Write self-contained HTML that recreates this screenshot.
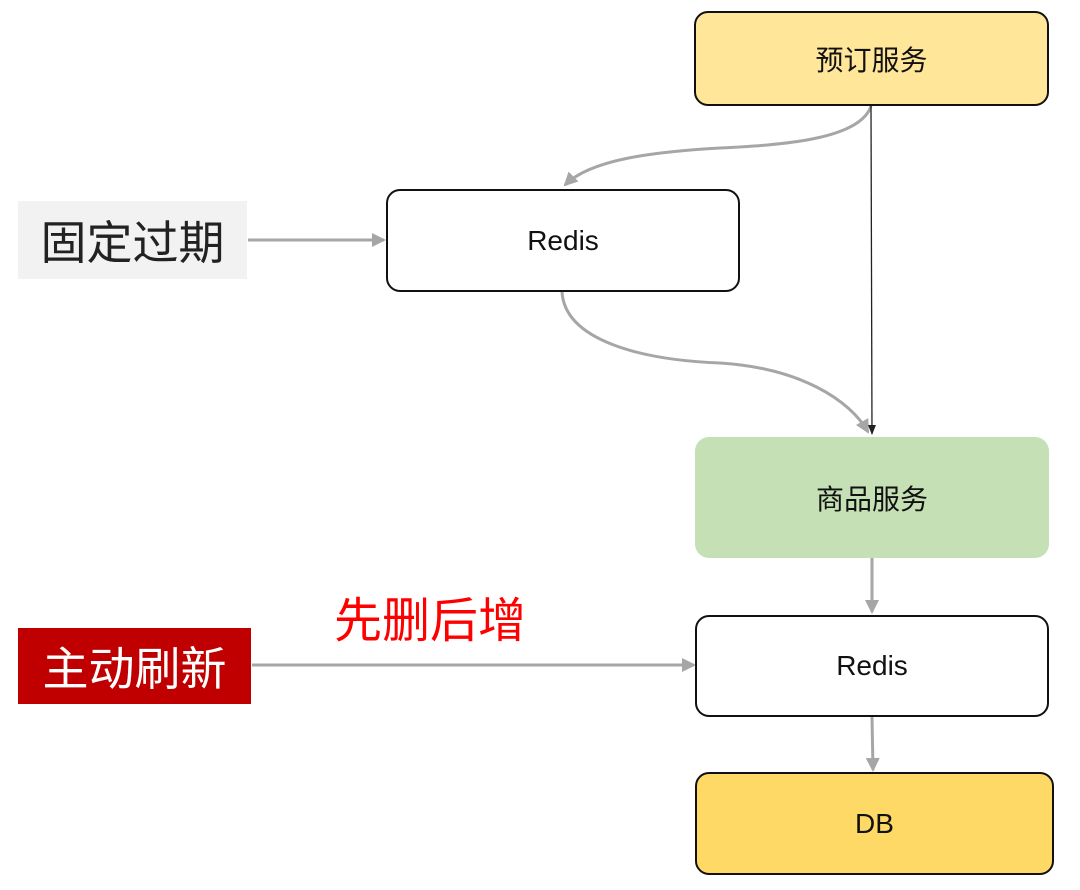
<!DOCTYPE html>
<html><head><meta charset="utf-8"><style>
html,body{margin:0;padding:0;background:#fff}
body{width:1080px;height:890px;position:relative;overflow:hidden;font-family:"Liberation Sans","Noto Sans CJK SC",sans-serif}
.b{position:absolute;box-sizing:border-box;border:2px solid #111;border-radius:14px;display:flex;align-items:center;justify-content:center;font-size:28px;color:#111}
.l{position:absolute;display:flex;align-items:center;justify-content:center}
</style></head><body>
<svg width="1080" height="890" style="position:absolute;left:0;top:0">
<defs>
<marker id="g" markerWidth="16" markerHeight="14" refX="12" refY="7" orient="auto" markerUnits="userSpaceOnUse" viewBox="0 0 14 14"><path d="M0,0 L14,7 L0,14 z" fill="#a6a6a6"/></marker>
<marker id="k" markerWidth="10" markerHeight="12" refX="9" refY="5" orient="auto" markerUnits="userSpaceOnUse" viewBox="0 0 10 10"><path d="M0,1 L10,5 L0,9 z" fill="#222"/></marker>
</defs>
<g fill="none" stroke="#a6a6a6" stroke-width="3">
<path d="M871,106 C860,140 780,145 720,148 C650,152 590,160 565,185" marker-end="url(#g)"/>
<path d="M562,292 C565,340 640,360 720,363 C800,368 850,400 868,432" marker-end="url(#g)"/>
<path d="M248,240 L384,240" marker-end="url(#g)"/>
<path d="M872,558 L872,612" marker-end="url(#g)"/>
<path d="M872,717 L873,770" marker-end="url(#g)"/>
<path d="M252,665 L694,665" marker-end="url(#g)"/>
</g>
<path d="M871,106 L872,434" stroke="#222" stroke-width="1.3" fill="none" marker-end="url(#k)"/>
</svg>
<div class="b" style="left:694px;top:11px;width:355px;height:95px;background:#ffe699">预订服务</div>
<div class="b" style="left:386px;top:189px;width:354px;height:103px;background:#fff">Redis</div>
<div class="b" style="left:695px;top:437px;width:354px;height:121px;background:#c5e0b4;border:none">商品服务</div>
<div class="b" style="left:695px;top:615px;width:354px;height:102px;background:#fff">Redis</div>
<div class="b" style="left:695px;top:772px;width:359px;height:103px;background:#ffd966">DB</div>
<div class="l" style="left:18px;top:201px;width:229px;height:78px;background:#f2f2f2;font-size:46px;color:#222">固定过期</div>
<div class="l" style="left:18px;top:628px;width:233px;height:76px;background:#c00000;font-size:46px;color:#fff">主动刷新</div>
<div class="l" style="left:330px;top:588px;width:200px;height:56px;font-size:48px;color:#ff0000">先删后增</div>
</body></html>
